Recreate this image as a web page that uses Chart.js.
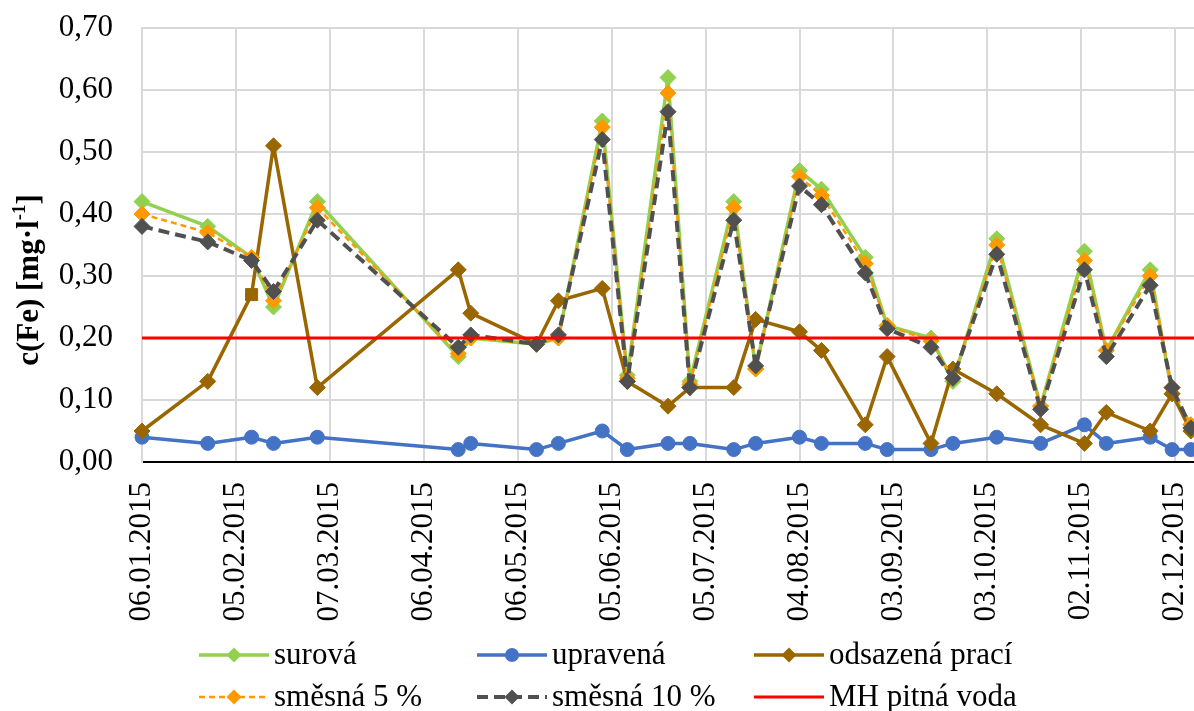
<!DOCTYPE html>
<html>
<head>
<meta charset="utf-8">
<script src="https://cdn.jsdelivr.net/npm/chart.js@4.4.1/dist/chart.umd.min.js"></script>
<style>
html,body{margin:0;padding:0;background:#fff;overflow:hidden}
#wrap{width:1194px;height:711px;position:relative}
</style>
</head>
<body>
<div id="wrap"><canvas id="c" width="1194" height="711"></canvas></div>
<script>
// ---- data (days since 06.01.2015) ----
const sampleDays = [0,21,35,42,56,101,105,126,133,147,155,168,175,189,196,210,217,231,238,252,259,273,287,301,308,322,329,335];
const surova   = [0.42,0.38,0.33,0.25,0.42,0.17,0.20,0.19,0.20,0.55,0.14,0.62,0.13,0.42,0.15,0.47,0.44,0.33,0.22,0.20,0.13,0.36,0.09,0.34,0.18,0.31,0.11,0.06];
const upravena = [0.04,0.03,0.04,0.03,0.04,0.02,0.03,0.02,0.03,0.05,0.02,0.03,0.03,0.02,0.03,0.04,0.03,0.03,0.02,0.02,0.03,0.04,0.03,0.06,0.03,0.04,0.02,0.02];
const odsazena = [0.05,0.13,0.27,0.51,0.12,0.31,0.24,0.19,0.26,0.28,0.13,0.09,0.12,0.12,0.23,0.21,0.18,0.06,0.17,0.03,0.15,0.11,0.06,0.03,0.08,0.05,0.11,0.05];
const smesna5  = [0.40,0.37,0.33,0.26,0.41,0.175,0.20,0.19,0.20,0.54,0.135,0.595,0.125,0.41,0.15,0.46,0.43,0.32,0.22,0.195,0.135,0.35,0.09,0.325,0.18,0.30,0.12,0.06];
const smesna10 = [0.38,0.355,0.325,0.275,0.39,0.185,0.205,0.19,0.205,0.52,0.13,0.565,0.12,0.39,0.155,0.445,0.415,0.305,0.215,0.185,0.135,0.335,0.085,0.31,0.17,0.285,0.12,0.055];
const mhLimit = 0.20;
const seriesNames = ['surová','upravená','odsazená prací','směsná 5 %','směsná 10 %','MH pitná voda'];
const tickDays = [0,30,60,90,120,150,180,210,240,270,300,330];
const tickLabels = ['06.01.2015','05.02.2015','07.03.2015','06.04.2015','06.05.2015','05.06.2015','05.07.2015','04.08.2015','03.09.2015','03.10.2015','02.11.2015','02.12.2015'];
const yTickValues = [0,0.1,0.2,0.3,0.4,0.5,0.6,0.7];
const xMin = 0, xMax = 336;

const pts = arr => sampleDays.map((d,i)=>({x:d, y:arr[i]}));
const FONT = '"Liberation Serif","Times New Roman",serif';

const brownStyles = sampleDays.map((d,i)=> i===2 ? 'rect' : 'rectRot');
const brownRadius = sampleDays.map((d,i)=> i===2 ? 8.5 : 8);

const datasets = [
  {label:seriesNames[0], data:pts(surova), borderColor:'#92D050', backgroundColor:'#92D050', borderWidth:3.5,
   pointStyle:'rectRot', pointRadius:8, pointBackgroundColor:'#92D050', pointBorderColor:'#92D050', pointBorderWidth:1, order:6},
  {label:seriesNames[1], data:pts(upravena), borderColor:'#4472C4', backgroundColor:'#4472C4', borderWidth:3.5,
   pointStyle:'circle', pointRadius:7, pointBackgroundColor:'#4472C4', pointBorderColor:'#4472C4', pointBorderWidth:1, order:5},
  {label:seriesNames[2], data:pts(odsazena), borderColor:'#996600', backgroundColor:'#996600', borderWidth:3.5,
   pointStyle:brownStyles, pointRadius:brownRadius, pointBackgroundColor:'#996600', pointBorderColor:'#996600', pointBorderWidth:1, order:4},
  {label:seriesNames[3], data:pts(smesna5), borderColor:'#FF9900', backgroundColor:'#FF9900', borderWidth:2.5, borderDash:[6,4],
   pointStyle:'rectRot', pointRadius:8, pointBackgroundColor:'#FF9900', pointBorderColor:'#FF9900', pointBorderWidth:1, order:3},
  {label:seriesNames[4], data:pts(smesna10), borderColor:'#505050', backgroundColor:'#505050', borderWidth:4, borderDash:[11,6],
   pointStyle:'rectRot', pointRadius:8, pointBackgroundColor:'#505050', pointBorderColor:'#505050', pointBorderWidth:1, order:2},
  {label:seriesNames[5], data:[{x:xMin,y:mhLimit},{x:xMax,y:mhLimit}], borderColor:'#FF0000', backgroundColor:'#FF0000', borderWidth:3,
   pointRadius:0, order:1}
];
datasets.forEach(d=>{d.tension=0; d.fill=false; d.clip=false; d.borderJoinStyle='round'; d.pointHoverRadius=d.pointRadius;});

function drawMarker(ctx, style, x, y, r){
  ctx.beginPath();
  if(style==='circle'){ ctx.arc(x,y,r,0,Math.PI*2); }
  else if(style==='rect'){ const s=r*Math.SQRT1_2; ctx.rect(x-s,y-s,2*s,2*s); }
  else { ctx.moveTo(x-r,y); ctx.lineTo(x,y-r); ctx.lineTo(x+r,y); ctx.lineTo(x,y+r); ctx.closePath(); }
  ctx.fill();
}

const extrasPlugin = {
  id:'extras',
  afterDraw(chart){
    const ctx = chart.ctx;
    // y axis title
    ctx.save();
    ctx.translate(30, 280);
    ctx.rotate(-Math.PI/2);
    ctx.fillStyle = '#000';
    ctx.textBaseline = 'middle';
    const mainFont = 'bold 31px ' + FONT, supFont = 'bold 19px ' + FONT;
    const p1 = 'c(Fe) [mg·l', p2 = '-1', p3 = ']';
    ctx.font = mainFont; const w1 = ctx.measureText(p1).width, w3 = ctx.measureText(p3).width;
    ctx.font = supFont; const w2 = ctx.measureText(p2).width;
    let x0 = -(w1+w2+w3)/2;
    ctx.font = mainFont; ctx.fillText(p1, x0, 0);
    ctx.font = supFont; ctx.fillText(p2, x0+w1, -10);
    ctx.font = mainFont; ctx.fillText(p3, x0+w1+w2, 0);
    ctx.restore();
    // legend
    const cols = [199, 477, 754];
    const rows = [655, 697];
    const sampleLen = 70;
    chart.data.datasets.forEach((ds,i)=>{
      const sx = cols[i%3], sy = rows[Math.floor(i/3)];
      ctx.save();
      ctx.strokeStyle = ds.borderColor;
      ctx.lineWidth = ds.borderWidth;
      ctx.setLineDash(ds.borderDash || []);
      ctx.beginPath(); ctx.moveTo(sx, sy); ctx.lineTo(sx+sampleLen, sy); ctx.stroke();
      ctx.setLineDash([]);
      if(ds.pointRadius && (Array.isArray(ds.pointRadius) ? ds.pointRadius[0] : ds.pointRadius) > 0){
        ctx.fillStyle = ds.pointBackgroundColor;
        const st = Array.isArray(ds.pointStyle) ? ds.pointStyle[0] : ds.pointStyle;
        drawMarker(ctx, st, sx+sampleLen/2, sy, st==='circle'?7:7.5);
      }
      ctx.fillStyle = '#000';
      ctx.font = '31px ' + FONT;
      ctx.textBaseline = 'middle';
      ctx.fillText(ds.label, sx+sampleLen+5, sy+1);
      ctx.restore();
    });
  }
};

new Chart(document.getElementById('c'), {
  type:'line',
  data:{datasets},
  options:{
    responsive:false,
    animation:false,
    devicePixelRatio:1,
    layout:{autoPadding:false, padding:{top:28,left:0,right:0,bottom:0}},
    plugins:{legend:{display:false}, tooltip:{enabled:false}},
    scales:{
      x:{
        type:'linear', min:xMin, max:xMax,
        afterBuildTicks: s => { s.ticks = tickDays.map(v=>({value:v})); },
        afterFit: s => { s.height = 249; s.paddingLeft = 0; s.paddingRight = 0; },
        ticks:{ autoSkip:false, minRotation:90, maxRotation:90, padding:20, color:'#000',
          font:{family:FONT, size:31},
          callback:(v,i)=> tickLabels[i] },
        grid:{ color:'#d9d9d9', lineWidth:2, drawTicks:false },
        border:{ color:'#000', width:2 }
      },
      y:{
        min:0, max:0.7,
        afterBuildTicks: s => { s.ticks = yTickValues.map(v=>({value:v})); },
        afterFit: s => { s.width = 142; s.paddingTop = 0; s.paddingBottom = 0; },
        ticks:{ padding:29, color:'#000', font:{family:FONT, size:31},
          callback:v => v.toFixed(2).replace('.', ',') },
        grid:{ color: c => (c.tick && c.tick.value === 0) ? 'rgba(0,0,0,0)' : '#d9d9d9', lineWidth:2, drawTicks:false },
        border:{ color:'#d9d9d9', width:2 }
      }
    }
  },
  plugins:[extrasPlugin]
});
</script>
</body>
</html>
